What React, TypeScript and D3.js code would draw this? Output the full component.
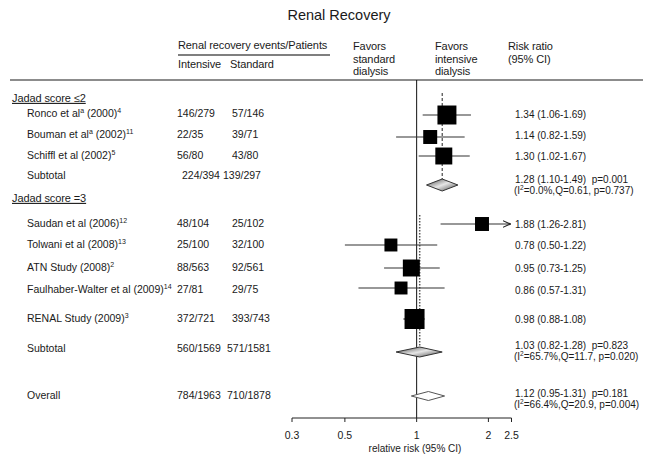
import React from "react";
import * as d3 from "d3";

const studyNames = [
  ["Ronco et al", "a", " (2000)", "4"],
  ["Bouman et al", "a", " (2002)", "11"],
  ["Schiffl et al (2002)", "", "", "5"],
  ["Saudan et al (2006)", "", "", "12"],
  ["Tolwani et al (2008)", "", "", "13"],
  ["ATN Study (2008)", "", "", "2"],
  ["Faulhaber-Walter et al (2009)", "", "", "14"],
  ["RENAL Study (2009)", "", "", "3"],
];
const intensive = ["146/279", "22/35", "56/80", "48/104", "25/100", "88/563", "27/81", "372/721"];
const standard = ["57/146", "39/71", "43/80", "25/102", "32/100", "92/561", "29/75", "393/743"];
const rr = [1.34, 1.14, 1.3, 1.88, 0.78, 0.95, 0.86, 0.98];
const lo = [1.06, 0.82, 1.02, 1.26, 0.5, 0.73, 0.57, 0.88];
const hi = [1.69, 1.59, 1.67, 2.81, 1.22, 1.25, 1.31, 1.08];
const weights = [14.4, 7.8, 11.5, 7.8, 6.7, 11.5, 6.7, 16];

const groupTitles = ["Jadad score \u22642", "Jadad score =3"];
const pooledLabels = ["Subtotal", "Subtotal", "Overall"];
const pooledIntensive = ["224/394", "560/1569", "784/1963"];
const pooledStandard = ["139/297", "571/1581", "710/1878"];
const pooledRR = [1.28, 1.03, 1.12];
const pooledLo = [1.1, 0.82, 0.95];
const pooledHi = [1.49, 1.28, 1.31];
const pooledPValue = ["0.001", "0.823", "0.181"];
const pooledI2 = ["0.0%", "65.7%", "66.4%"];
const pooledQ = ["0.61", "11.7", "20.9"];
const pooledP = ["0.737", "0.020", "0.004"];

const axisTicks = [0.3, 0.5, 1, 2, 2.5];
const axisTickLabels = ["0.3", "0.5", "1", "2", "2.5"];

const FONT = "'Liberation Sans', Arial, sans-serif";
const TXT = "#1a1a1a";

// layout (pixel positions of rows)
const studyTextY = [113, 134, 155, 223, 244, 267, 289, 318];
const studyMarkY = [115, 137, 156, 224, 245, 268, 288, 319];
const headingY = [98, 198];
const pooledTextY = [175, 348, 395];
const pooledRightY = [179, 345, 393];
const pooledDiamondY = [185, 352, 396];
const pooledDiamondH = [12, 10, 9];
const pooledIntX = [[182, 223], [177, 227], [177, 227]];

export default function App() {
  const x = d3.scaleLog().domain([0.3, 2.5]).range([292, 511.5]);
  const side = d3.scaleSqrt().domain([0, 16]).range([0, 20]);
  const fmt = d3.format(".2f");
  const axisY = 418;
  const fs = 10.5;

  return (
    <svg width={664} height={455} style={{ position: "absolute", left: 0, top: 0 }} fontFamily={FONT}>
      <defs>
        <linearGradient id="dg" x1="0" y1="0" x2="1" y2="1">
          <stop offset="0" stopColor="#444" />
          <stop offset="0.5" stopColor="#e6e6e6" />
          <stop offset="1" stopColor="#444" />
        </linearGradient>
        <marker id="arr" viewBox="0 0 10 10" refX="9" refY="5" markerWidth="7" markerHeight="7" orient="auto">
          <path d="M0,1 L9,5 L0,9" fill="none" stroke="#222" strokeWidth="1.3" />
        </marker>
      </defs>
      <rect width={664} height={455} fill="#fff" />
      <text x={339} y={20} textAnchor="middle" fontSize={14.5} fill={TXT}>Renal Recovery</text>

      {/* headers */}
      <text x={178} y={49} fontSize={11} fill={TXT} letterSpacing={-0.1}>Renal recovery events/Patients</text>
      <line x1={178} x2={330} y1={55} y2={55} stroke="#555" strokeWidth={1.5} />
      <text x={178} y={68} fontSize={11} fill={TXT} letterSpacing={-0.1}>Intensive</text>
      <text x={230} y={68} fontSize={11} fill={TXT} letterSpacing={-0.1}>Standard</text>
      {["Favors", "standard", "dialysis"].map((t, i) => (
        <text key={"fs" + i} x={353} y={50 + i * 12.5} fontSize={11} fill={TXT} letterSpacing={-0.1}>{t}</text>
      ))}
      {["Favors", "intensive", "dialysis"].map((t, i) => (
        <text key={"fi" + i} x={435} y={50 + i * 12.5} fontSize={11} fill={TXT} letterSpacing={-0.1}>{t}</text>
      ))}
      {["Risk ratio", "(95% CI)"].map((t, i) => (
        <text key={"rr" + i} x={508} y={50 + i * 12.5} fontSize={11} fill={TXT} letterSpacing={-0.1}>{t}</text>
      ))}
      <line x1={10} x2={643} y1={80} y2={80} stroke="#666" strokeWidth={1.5} />

      {/* reference line */}
      <line x1={x(1)} x2={x(1)} y1={80} y2={axisY} stroke="#111" strokeWidth={1} />
      {/* subgroup pooled dashed lines */}
      <line x1={x(pooledRR[0])} x2={x(pooledRR[0])} y1={93} y2={180} stroke="#222" strokeDasharray="3,2" />
      <line x1={x(pooledRR[1])} x2={x(pooledRR[1])} y1={215} y2={348} stroke="#555" strokeWidth={1.5} strokeDasharray="1.5,1.5" />

      {/* group headings */}
      {groupTitles.map((g, i) => (
        <text key={"g" + i} x={12} y={headingY[i]} dy="0.35em" fontSize={11} fill={TXT} textDecoration="underline" letterSpacing={-0.1}>{g}</text>
      ))}

      {/* studies */}
      {studyNames.map((n, i) => {
        const y = studyMarkY[i];
        const ty = studyTextY[i];
        const s = side(weights[i]);
        const clipped = hi[i] > 2.5;
        const x2 = clipped ? x(2.5) - 1 : x(hi[i]);
        return (
          <g key={"s" + i}>
            <text x={27} y={ty} dy="0.35em" fontSize={fs} fill={TXT}>
              {n[0]}
              {n[1] ? <tspan fontSize={7} dy="-4">{n[1]}</tspan> : null}
              {n[2] ? <tspan dy="4">{n[2]}</tspan> : null}
              <tspan fontSize={7} dy="-4">{n[3]}</tspan>
            </text>
            <text x={177} y={ty} dy="0.35em" fontSize={fs} fill={TXT}>{intensive[i]}</text>
            <text x={232} y={ty} dy="0.35em" fontSize={fs} fill={TXT}>{standard[i]}</text>
            <line x1={x(lo[i])} x2={x2} y1={y} y2={y} stroke="#333" strokeWidth={1.2} markerEnd={clipped ? "url(#arr)" : undefined} />
            <rect x={x(rr[i]) - s / 2} y={y - s / 2} width={s} height={s} fill="#000" />
            <text x={515} y={ty + 1} dy="0.35em" fontSize={10} fill={TXT}>
              {`${fmt(rr[i])} (${fmt(lo[i])}-${fmt(hi[i])})`}
            </text>
          </g>
        );
      })}

      {/* pooled */}
      {pooledLabels.map((lab, i) => {
        const y = pooledDiamondY[i];
        const h = pooledDiamondH[i] / 2;
        const d = `M${x(pooledLo[i])},${y} L${x(pooledRR[i])},${y - h} L${x(pooledHi[i])},${y} L${x(pooledRR[i])},${y + h} Z`;
        const last = i === 2;
        return (
          <g key={"p" + i}>
            <text x={27} y={pooledTextY[i]} dy="0.35em" fontSize={fs} fill={TXT}>{lab}</text>
            <text x={pooledIntX[i][0]} y={pooledTextY[i]} dy="0.35em" fontSize={fs} fill={TXT}>{pooledIntensive[i]}</text>
            <text x={pooledIntX[i][1]} y={pooledTextY[i]} dy="0.35em" fontSize={fs} fill={TXT}>{pooledStandard[i]}</text>
            <path d={d} fill={last ? "#fff" : "url(#dg)"} stroke={last ? "#555" : "#333"} strokeWidth={1} />
            <text x={515} y={pooledRightY[i]} dy="0.35em" fontSize={10} fill={TXT} style={{ whiteSpace: "pre" }}>
              {`${fmt(pooledRR[i])} (${fmt(pooledLo[i])}-${fmt(pooledHi[i])})  p=${pooledPValue[i]}`}
            </text>
            <text x={514} y={pooledRightY[i] + 11} dy="0.35em" fontSize={10} fill={TXT}>
              (I<tspan fontSize={6.5} dy="-3.5">2</tspan><tspan dy="3.5">{`=${pooledI2[i]},Q=${pooledQ[i]}, p=${pooledP[i]})`}</tspan>
            </text>
          </g>
        );
      })}

      {/* axis */}
      <line x1={x(0.3)} x2={x(2.5)} y1={axisY} y2={axisY} stroke="#222" strokeWidth={1} />
      {axisTicks.map((t, i) => (
        <g key={"t" + i}>
          <line x1={x(t)} x2={x(t)} y1={axisY} y2={axisY + 4} stroke="#222" />
          <text x={x(t)} y={435} dy="0.35em" textAnchor="middle" fontSize={10.5} fill={TXT}>{axisTickLabels[i]}</text>
        </g>
      ))}
      <text x={415} y={448} dy="0.35em" textAnchor="middle" fontSize={10} fill={TXT}>relative risk (95% CI)</text>
    </svg>
  );
}
